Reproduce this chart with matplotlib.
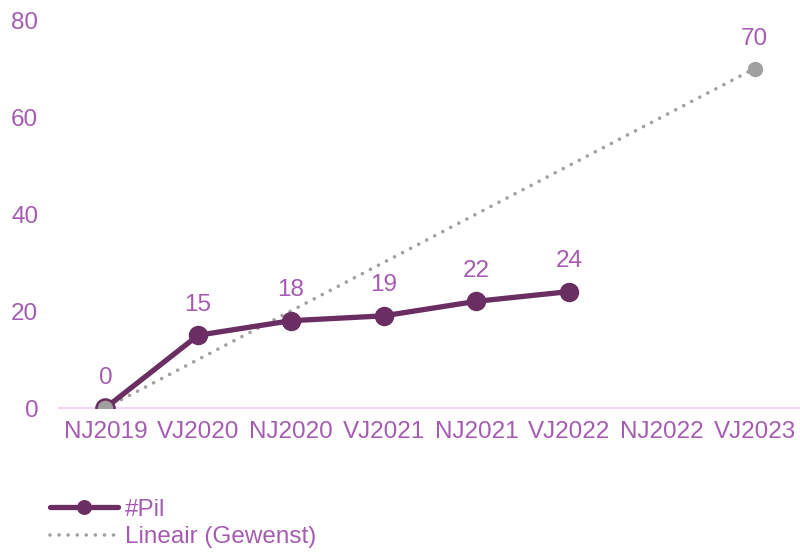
import matplotlib.pyplot as plt
import numpy as np

plt.rcParams['font.family'] = ['Liberation Sans', 'DejaVu Sans']

categories = ['NJ2019', 'VJ2020', 'NJ2020', 'VJ2021', 'NJ2021', 'VJ2022', 'NJ2022', 'VJ2023']
pil = [0, 15, 18, 19, 22, 24]
trend_start = 0
trend_end = 70

label_col = '#A65BB3'
pil_col = '#6A2E63'
trend_col = '#A0A0A0'
fs = 17.5

fig = plt.figure(figsize=(8, 5.53), dpi=100)
ax = fig.add_axes([0.07375, 0.2622, 0.9275, 0.7016])

x = np.arange(len(categories))
xt = [0, len(categories) - 1]
yt = [trend_start, trend_end]

# trend line (gewenst)
ax.plot(xt, yt, color=trend_col, lw=2.6, ls=(0, (0.01, 2.5)), dash_capstyle='round',
        label='Lineair (Gewenst)', zorder=2)
ax.plot(xt[1], yt[1], 'o', color=trend_col, ms=10, zorder=3)

# actual values
ax.plot(x[:len(pil)], pil, color=pil_col, lw=3.8, marker='o', ms=13,
        solid_capstyle='round', label='#Pil', zorder=4)
ax.plot(x[0], pil[0], 'o', mfc=trend_col, mec=pil_col, mew=1.8, ms=13, zorder=5)

for xi, v in zip(x, pil):
    ax.annotate(str(v), (xi, v), xytext=(0, 14), textcoords='offset points',
                ha='center', va='bottom', color=label_col, fontsize=fs)
ax.annotate(str(trend_end), (xt[1], yt[1]), xytext=(0, 13), textcoords='offset points',
            ha='center', va='bottom', color=label_col, fontsize=fs)

ax.set_xlim(-0.5, len(categories) - 0.5)
ax.set_ylim(0, 80)
ax.set_xticks(x)
ax.set_xticklabels(categories)
ax.set_yticks([0, 20, 40, 60, 80])
ax.tick_params(axis='both', length=0, labelsize=fs, labelcolor=label_col)
ax.tick_params(axis='x', pad=9)
ax.tick_params(axis='y', pad=15)
for s in ['top', 'right', 'left']:
    ax.spines[s].set_visible(False)
ax.spines['bottom'].set_color('#EFD9EE')
ax.spines['bottom'].set_linewidth(1.5)
ax.patch.set_alpha(0)

h, l = ax.get_legend_handles_labels()
leg = fig.legend(h[::-1], l[::-1], loc='upper left', bbox_to_anchor=(0.0625, 0.098),
                 frameon=False, fontsize=fs, handlelength=2.8, handletextpad=0.3,
                 labelspacing=0.22, borderaxespad=0, borderpad=0, markerscale=0.75)
for t in leg.get_texts():
    t.set_color(label_col)

fig.savefig('out.png', dpi=100)
